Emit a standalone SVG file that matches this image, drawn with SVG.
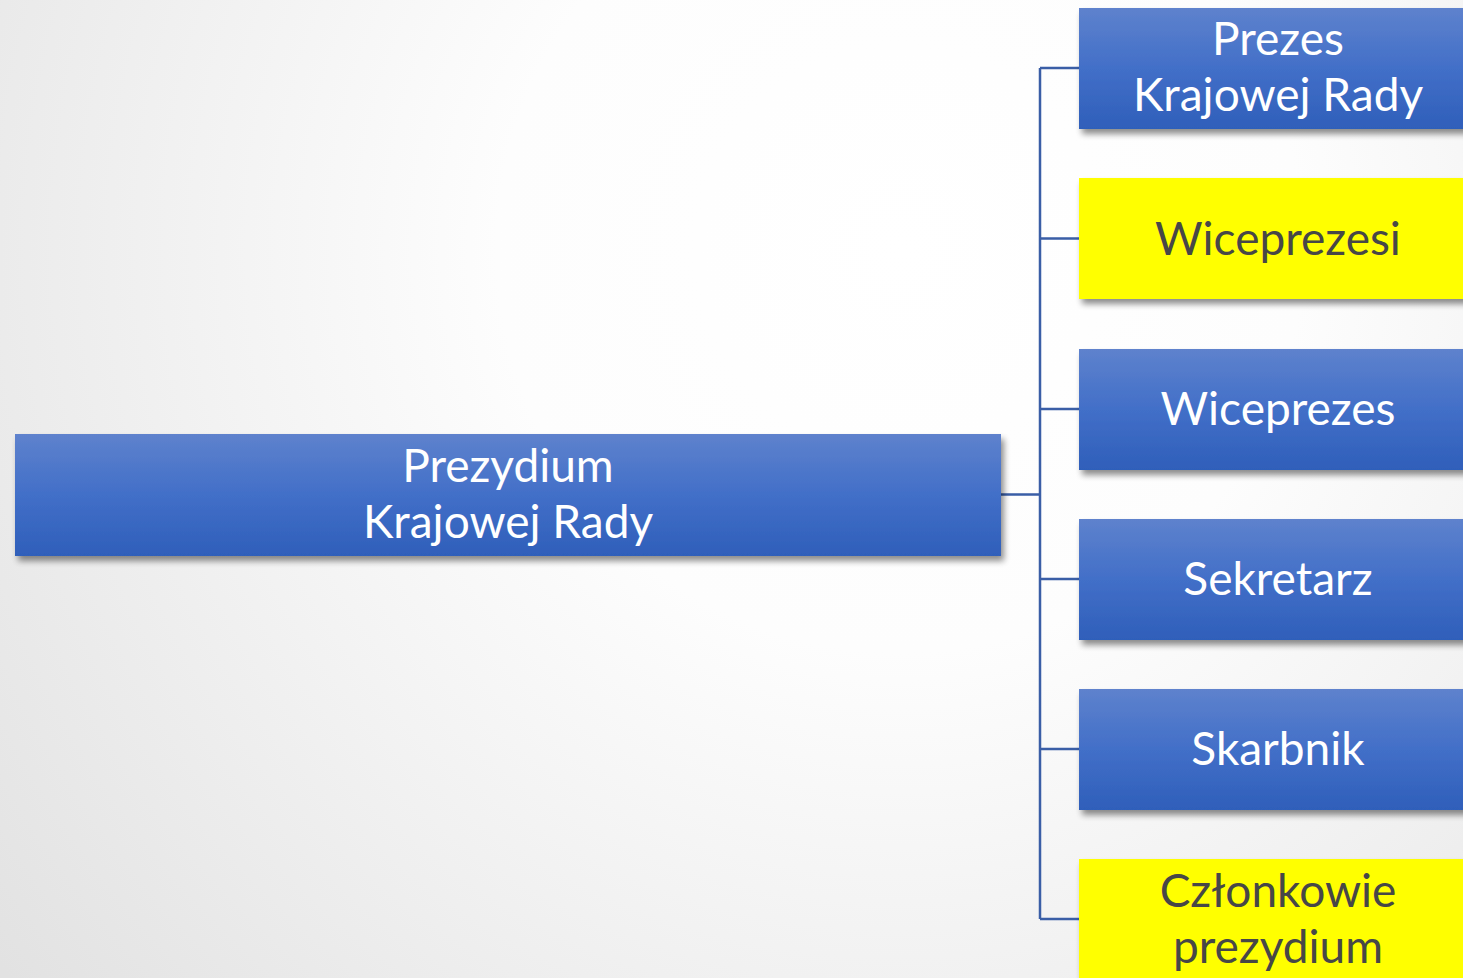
<svg xmlns="http://www.w3.org/2000/svg" width="1463" height="978" viewBox="0 0 1463 978">
<defs>
<radialGradient id="bg" cx="900" cy="250" r="1150" gradientUnits="userSpaceOnUse">
<stop offset="0" stop-color="#ffffff"/>
<stop offset="0.35" stop-color="#fdfdfd"/>
<stop offset="1" stop-color="#e2e2e2"/>
</radialGradient>
<linearGradient id="blue" x1="0" y1="0" x2="0" y2="1">
<stop offset="0" stop-color="#5e82cd"/>
<stop offset="0.5" stop-color="#426fc8"/>
<stop offset="1" stop-color="#2f5fba"/>
</linearGradient>
<filter id="sh" x="-5%" y="-20%" width="115%" height="150%">
<feGaussianBlur in="SourceAlpha" stdDeviation="3"/>
<feOffset dx="3" dy="5" result="b"/>
<feComponentTransfer><feFuncA type="linear" slope="0.45"/></feComponentTransfer>
<feMerge><feMergeNode/><feMergeNode in="SourceGraphic"/></feMerge>
</filter>
</defs>
<style>
.b{fill:url(#blue);filter:url(#sh)}
.y{fill:#ffff00;filter:url(#sh)}
text{font-family:Lato,"Open Sans","Liberation Sans",sans-serif;font-size:46px;text-anchor:middle}
.w{fill:#ffffff}
.d{fill:#474747}
.c{stroke:#3a5ea6;stroke-width:2.5;fill:none}
</style>
<rect width="1463" height="978" fill="url(#bg)"/>
<g id="connectors">
<path class="c" d="M1001 494.5H1040M1040 68V919M1040 68H1079M1040 238.5H1079M1040 409H1079M1040 579H1079M1040 749H1079M1040 919H1079"/>
</g>
<g id="main">
<rect class="b" x="15" y="434" width="986" height="122"/>
<text class="w" x="508" y="482">Prezydium</text>
<text class="w" x="508" y="538">Krajowej Rady</text>
</g>
<g id="prezes">
<rect class="b" x="1079" y="8" width="400" height="121"/>
<text class="w" x="1278" y="55">Prezes</text>
<text class="w" x="1278" y="111">Krajowej Rady</text>
</g>
<g id="wiceprezesi">
<rect class="y" x="1079" y="178" width="400" height="121"/>
<text class="d" x="1278" y="255">Wiceprezesi</text>
</g>
<g id="wiceprezes">
<rect class="b" x="1079" y="349" width="400" height="121"/>
<text class="w" x="1278" y="425">Wiceprezes</text>
</g>
<g id="sekretarz">
<rect class="b" x="1079" y="519" width="400" height="121"/>
<text class="w" x="1278" y="595">Sekretarz</text>
</g>
<g id="skarbnik">
<rect class="b" x="1079" y="689" width="400" height="121"/>
<text class="w" x="1278" y="765">Skarbnik</text>
</g>
<g id="czlonkowie">
<rect class="y" x="1079" y="859" width="400" height="130"/>
<text class="d" x="1278" y="907">Członkowie</text>
<text class="d" x="1278" y="963">prezydium</text>
</g>
</svg>
